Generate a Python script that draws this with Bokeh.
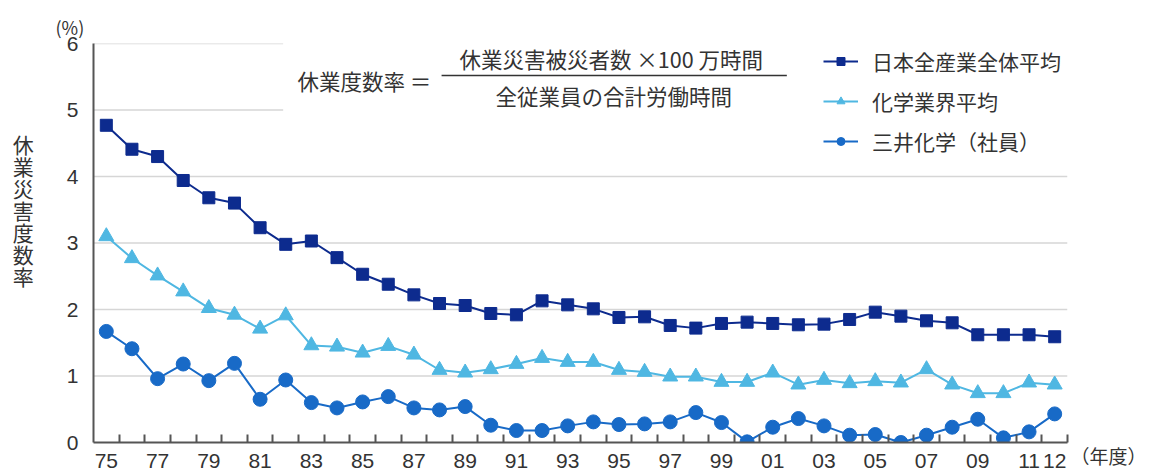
from bokeh.plotting import figure
from bokeh.models import (FixedTicker, Label, Legend, LegendItem, LinearAxis,
                          Range1d, ColumnDataSource)
from bokeh.embed import file_html
from bokeh.resources import INLINE

# Fiscal years 1975-2012
years = list(range(1975, 2013))

# Lost-time injury frequency rate (%)
all_industry = [4.77, 4.41, 4.30, 3.94, 3.68, 3.60, 3.23, 2.98, 3.03, 2.78,
                2.53, 2.38, 2.22, 2.09, 2.06, 1.94, 1.92, 2.13, 2.07, 2.01,
                1.88, 1.89, 1.76, 1.72, 1.79, 1.81, 1.79, 1.77, 1.78, 1.85,
                1.96, 1.90, 1.83, 1.80, 1.62, 1.62, 1.62, 1.59]
chemical_industry = [3.10, 2.77, 2.51, 2.27, 2.02, 1.92, 1.71, 1.91, 1.46, 1.44,
                     1.35, 1.45, 1.32, 1.09, 1.05, 1.10, 1.18, 1.27, 1.21, 1.21,
                     1.09, 1.06, 0.99, 0.99, 0.91, 0.91, 1.05, 0.87, 0.94, 0.89,
                     0.92, 0.90, 1.10, 0.87, 0.74, 0.74, 0.90, 0.87]
mitsui_chemicals = [1.67, 1.41, 0.96, 1.18, 0.93, 1.19, 0.65, 0.94, 0.60, 0.52,
                    0.61, 0.69, 0.52, 0.49, 0.54, 0.26, 0.18, 0.18, 0.25, 0.31,
                    0.27, 0.28, 0.31, 0.45, 0.30, 0.01, 0.23, 0.36, 0.25, 0.11,
                    0.12, 0.00, 0.11, 0.23, 0.35, 0.07, 0.16, 0.43]

series_names = ["日本全産業全体平均", "化学業界平均", "三井化学（社員）"]
label_years = list(range(1975, 2012, 2)) + [2012]
y_ticks = [0, 1, 2, 3, 4, 5, 6]

NAVY = "#0d2b8e"
SKY = "#4fb7e2"
BLUE = "#186ac7"
AXIS = "#555555"
TEXT = "#333333"
JP = "Noto Sans CJK JP"
NUM = "Liberation Sans"

x0, x1 = years[0] - 0.5, years[-1] + 0.5

p = figure(width=1149, height=472, output_backend="svg", toolbar_location=None,
           x_range=Range1d(x0, x1), y_range=Range1d(0, 6),
           min_border_left=93, min_border_right=77,
           min_border_top=43, min_border_bottom=30)
p.outline_line_color = None
p.background_fill_color = "white"
p.border_fill_color = "white"

# unit caption above the value axis
p.title.text = "(%)"
p.title.align = "left"
p.title.offset = -38
p.title.text_font = JP
p.title.text_font_size = "18px"
p.title.text_font_style = "normal"
p.title.text_color = TEXT
p.title.standoff = 7

# horizontal grid; the upper two lines stop short of the formula/legend area
p.xgrid.grid_line_color = None
p.ygrid.grid_line_color = None
grid_y = [v for v in y_ticks if v > 0]
grid_end = [1981.9 if v >= 5 else x1 for v in grid_y]
p.segment(x0=[x0] * len(grid_y), y0=grid_y, x1=grid_end, y1=grid_y,
          line_color="#d6d6d6", line_width=1.5, level="underlay")

# y axis
p.yaxis.ticker = FixedTicker(ticks=y_ticks)
p.yaxis.axis_line_color = AXIS
p.yaxis.axis_line_width = 2
p.yaxis.major_tick_line_color = None
p.yaxis.minor_tick_line_color = None
p.yaxis.major_label_standoff = 9
p.yaxis.major_label_text_font = NUM
p.yaxis.major_label_text_font_size = "21px"
p.yaxis.major_label_text_color = TEXT
p.yaxis.axis_label = "\n".join("休業災害度数率") + "\n \n \n "
p.yaxis.axis_label_orientation = "horizontal"
p.yaxis.axis_label_text_font = JP
p.yaxis.axis_label_text_font_size = "21px"
p.yaxis.axis_label_text_font_style = "normal"
p.yaxis.axis_label_text_color = TEXT
p.yaxis.axis_label_text_line_height = 0.73
p.yaxis.axis_label_standoff = 30

# x axis: labels at category centres, tick marks at category boundaries
p.xaxis.ticker = FixedTicker(ticks=label_years,
                             minor_ticks=[y + 0.5 for y in years])
p.xaxis.major_label_overrides = {y: f"{y % 100:02d}" for y in label_years}
p.xaxis.axis_line_color = AXIS
p.xaxis.axis_line_width = 2
p.xaxis.major_tick_line_color = None
p.xaxis.minor_tick_line_color = AXIS
p.xaxis.minor_tick_line_width = 2
p.xaxis.minor_tick_in = 8
p.xaxis.minor_tick_out = 0
p.xaxis.major_label_standoff = 5
p.xaxis.major_label_text_font = NUM
p.xaxis.major_label_text_font_size = "21px"
p.xaxis.major_label_text_color = TEXT

# "(年度)" unit caption to the right of the last year label
unit_axis = LinearAxis(ticker=FixedTicker(ticks=[0]),
                       major_label_overrides={0: "\n（年度）"},
                       axis_line_color=None, major_tick_line_color=None,
                       minor_tick_line_color=None, major_label_standoff=-3,
                       major_label_text_font=JP,
                       major_label_text_font_size="19px",
                       major_label_text_line_height=1.5,
                       major_label_text_color=TEXT,
                       major_label_text_baseline="top")
p.add_layout(unit_axis, "right")

src = ColumnDataSource(dict(year=years, a=all_industry, c=chemical_industry,
                            m=mitsui_chemicals))

p.line("year", "a", source=src, line_color=NAVY, line_width=2)
p.scatter("year", "a", source=src, marker="square", size=12,
          fill_color=NAVY, line_color=NAVY)
p.line("year", "c", source=src, line_color=SKY, line_width=2)
p.scatter("year", "c", source=src, marker="triangle", size=15,
          fill_color=SKY, line_color=SKY)
p.line("year", "m", source=src, line_color=BLUE, line_width=2)
p.scatter("year", "m", source=src, marker="circle", size=14,
          fill_color=BLUE, line_color=BLUE)

# legend swatches (smaller markers than on the chart)
nan = float("nan")
items = []
for name, color, marker, size in zip(series_names, [NAVY, SKY, BLUE],
                                     ["square", "triangle", "circle"], [10, 13, 12]):
    lr = p.line(x=[nan], y=[nan], line_color=color, line_width=2)
    sr = p.scatter(x=[nan], y=[nan], marker=marker, size=size,
                   fill_color=color, line_color=color)
    items.append(LegendItem(label=name, renderers=[lr, sr]))

legend = Legend(items=items, location=(730, 286), orientation="vertical",
                glyph_width=35, glyph_height=20, label_standoff=14,
                spacing=10, padding=0, margin=0,
                label_text_font=JP, label_text_font_size="21px",
                label_text_color=TEXT, border_line_color=None,
                background_fill_alpha=0)
p.add_layout(legend, "center")

# formula
p.add_layout(Label(x=1982.46, y=5.447, text="休業度数率 ＝", text_font=JP,
                   text_font_size="21.5px", text_color=TEXT,
                   text_align="left", text_baseline="middle"))
p.add_layout(Label(x=1994.7, y=5.77, text="休業災害被災者数 ×100 万時間",
                   text_font=JP, text_font_size="21.5px", text_color=TEXT,
                   text_align="center", text_baseline="middle"))
p.add_layout(Label(x=1994.8, y=5.22, text="全従業員の合計労働時間",
                   text_font=JP, text_font_size="21.5px", text_color=TEXT,
                   text_align="center", text_baseline="middle"))
p.segment(x0=[1988.08], y0=[5.52], x1=[2001.55], y1=[5.52],
          line_color="#333333", line_width=1.5)

open("out.html", "w").write(file_html(p, INLINE))
